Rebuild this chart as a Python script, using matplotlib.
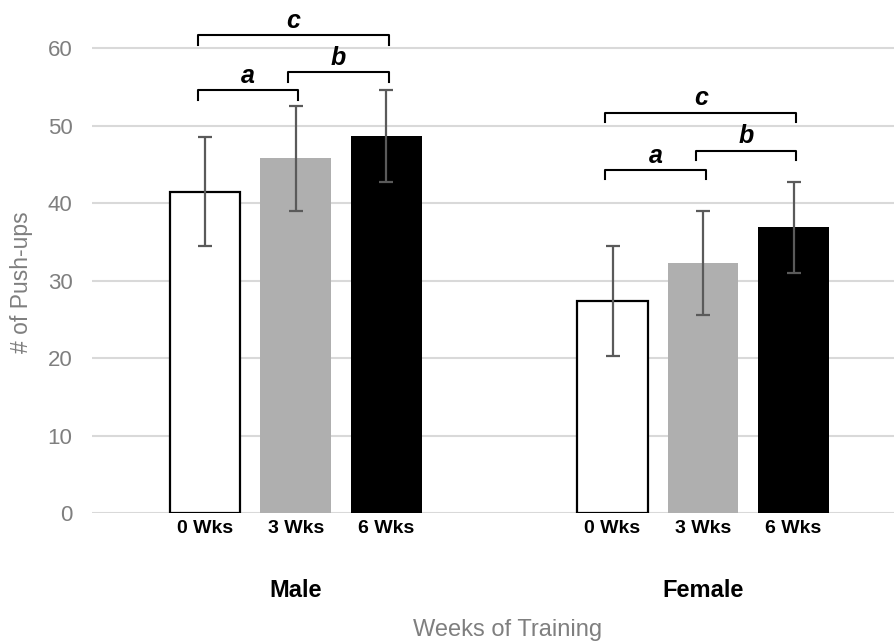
import numpy as np
import matplotlib
matplotlib.use('Agg')
from matplotlib import pyplot as plt

plt.rcParams['font.family'] = ['Liberation Sans', 'DejaVu Sans']

groups = ['Male', 'Female']
weeks = ['0 Wks', '3 Wks', '6 Wks']
male_mean = [41.5, 45.8, 48.7]
male_err = [7.05, 6.75, 5.9]
female_mean = [27.4, 32.3, 36.9]
female_err = [7.1, 6.7, 5.9]
yticks = [0, 10, 20, 30, 40, 50, 60]

# brackets: (group, from bar, to bar, height, letter)
brackets = [
    (0, 0, 1, 54.6, 'a'), (0, 1, 2, 56.9, 'b'), (0, 0, 2, 61.7, 'c'),
    (1, 0, 1, 44.3, 'a'), (1, 1, 2, 46.8, 'b'), (1, 0, 2, 51.7, 'c'),
]

fills = ['white', '#afafaf', 'black']
edges = ['black', '#afafaf', 'black']

fig = plt.figure(figsize=(8.95, 6.44), dpi=100)
ax = fig.add_axes([92 / 895, 1 - 513 / 644, 1 - 92 / 895, 511 / 644])

offsets = [0.0, 4.5]
means = [male_mean, female_mean]
errs = [male_err, female_err]
for g in range(2):
    xs = offsets[g] + np.arange(3)
    for i in range(3):
        ax.bar(xs[i], means[g][i], width=0.78, color=fills[i], edgecolor=edges[i],
               linewidth=1.6 if i == 0 else 0, zorder=2)
        ax.errorbar(xs[i], means[g][i], yerr=errs[g][i], fmt='none', ecolor='#5a5a5a',
                    elinewidth=1.6, capsize=5, capthick=1.6, zorder=3)

for g, a, b, h, lab in brackets:
    x0 = offsets[g] + a - 0.08
    x1 = offsets[g] + b + 0.03
    ax.plot([x0, x0, x1, x1], [h - 1.2, h, h, h - 1.2], color='black', lw=1.5,
            zorder=4, clip_on=False)
    ax.text((x0 + x1) / 2, h + 0.3, lab, ha='center', va='bottom', fontsize=18,
            fontweight='bold', fontstyle='italic', color='black')

ax.set_xlim(-1.25, 7.62)
ax.set_ylim(0, 66)
ax.set_yticks(yticks)
ax.set_yticklabels([str(t) for t in yticks], fontsize=16, color='#7f7f7f')
ax.yaxis.grid(True, color='#d9d9d9', lw=1.5, zorder=0)
ax.set_axisbelow(True)
ax.tick_params(axis='y', length=0, pad=14)
ax.tick_params(axis='x', length=0, pad=5)
allx = list(offsets[0] + np.arange(3)) + list(offsets[1] + np.arange(3))
ax.set_xticks(allx)
ax.set_xticklabels(weeks * 2, fontsize=14, fontweight='bold')
for s in ax.spines.values():
    s.set_visible(False)

for g in range(2):
    ax.text(offsets[g] + 1, -10, groups[g], ha='center', va='center', fontsize=17,
            fontweight='bold', transform=ax.transData)

fig.text(508 / 895, 1 - 630 / 644, 'Weeks of Training', ha='center', va='center',
         fontsize=17, color='#7f7f7f')
fig.text(22 / 895, 1 - 282 / 644, '# of Push-ups', ha='center', va='center',
         fontsize=16.5, color='#7f7f7f', rotation=90)

fig.savefig('out.png', dpi=100)
